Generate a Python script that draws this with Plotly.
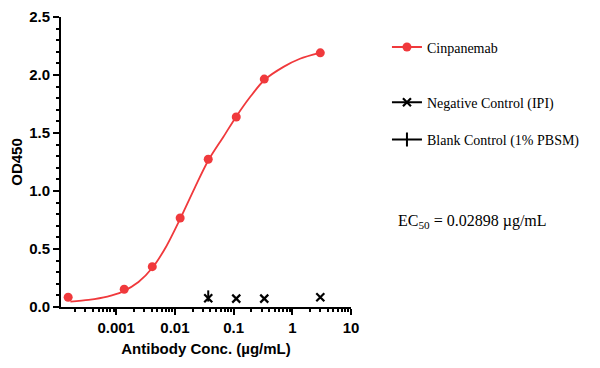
import plotly.graph_objects as go

# Data
conc = [0.000152, 0.00137, 0.00412, 0.0123, 0.037, 0.111, 0.333, 3.0]
od_cinpanemab = [0.084, 0.153, 0.348, 0.767, 1.274, 1.638, 1.965, 2.191]

# fitted curve
fit_conc = [0.000166, 0.000339, 0.000708, 0.00126, 0.0024, 0.00417, 0.00708, 0.0123,
            0.0219, 0.0372, 0.0676, 0.112, 0.191, 0.331, 0.708, 1.35, 2.95]
fit_od = [0.047, 0.062, 0.090, 0.130, 0.215, 0.340, 0.520, 0.760,
          1.030, 1.265, 1.470, 1.645, 1.810, 1.955, 2.070, 2.140, 2.190]

neg_conc = [0.037, 0.111, 0.333, 3.0]
od_negative = [0.076, 0.072, 0.072, 0.084]

blank_conc = [0.037]
od_blank = [0.095]

x_ticks = [0.001, 0.01, 0.1, 1, 10]
x_tick_labels = ["0.001", "0.01", "0.1", "1", "10"]

RED = "#F0393C"
serif = "Liberation Serif, Times New Roman, serif"
sans = "Liberation Sans, Arial, sans-serif"

fig = go.Figure()

fig.add_trace(go.Scatter(x=fit_conc, y=fit_od, mode="lines",
                         line=dict(color=RED, width=1.8, shape="spline", smoothing=0.8),
                         showlegend=False, hoverinfo="skip"))
fig.add_trace(go.Scatter(x=conc, y=od_cinpanemab, mode="markers", marker=dict(color=RED, size=9),
                         showlegend=False))
fig.add_trace(go.Scatter(x=neg_conc, y=od_negative, mode="markers",
                         marker=dict(symbol="x-thin-open", size=8, color="black",
                                     line=dict(color="black", width=2.2)),
                         showlegend=False))
fig.add_trace(go.Scatter(x=blank_conc, y=od_blank, mode="markers",
                         marker=dict(symbol="line-ns-open", size=8, color="black",
                                     line=dict(color="black", width=2)),
                         showlegend=False))

# legend entries
fig.add_trace(go.Scatter(x=[None], y=[None], mode="lines+markers", name="Cinpanemab",
                         line=dict(color=RED, width=2), marker=dict(color=RED, size=9), legend="legend"))
fig.add_trace(go.Scatter(x=[None], y=[None], mode="lines+markers", name="Negative Control (IPI)",
                         line=dict(color="black", width=2),
                         marker=dict(symbol="x-thin-open", size=8, color="black",
                                     line=dict(color="black", width=2.2)),
                         legend="legend2", legendgroup="a"))
fig.add_trace(go.Scatter(x=[None], y=[None], mode="lines+markers", name="Blank Control (1% PBSM)",
                         line=dict(color="black", width=2),
                         marker=dict(symbol="line-ns-open", size=10, color="black",
                                     line=dict(color="black", width=2)),
                         legend="legend2", legendgroup="b"))

axis_font = dict(family=sans, size=15, color="black")

fig.update_layout(
    width=600, height=368,
    margin=dict(l=53, r=257, t=9, b=69, autoexpand=False),
    plot_bgcolor="white", paper_bgcolor="white",
    xaxis=dict(
        type="log", range=[-3.94, 1.0], automargin=False,
        tickvals=x_ticks, ticktext=x_tick_labels,
        ticks="outside", ticklen=6, tickwidth=1.5, tickcolor="black",
        showline=True, linecolor="black", linewidth=2,
        showgrid=False, zeroline=False, ticklabeloverflow="allow",
        tickfont=dict(family=sans, size=15, color="black", weight="bold"),
        title=dict(text="<b>Antibody Conc. (µg/mL)</b>", font=axis_font, standoff=8),
        minor=dict(ticks="outside", ticklen=3, tickwidth=1.5, tickcolor="black", dtick="D1", showgrid=False),
    ),
    yaxis=dict(
        range=[0, 2.5], dtick=0.5, tickformat=".1f", automargin=False,
        ticks="outside", ticklen=6, tickwidth=1.5, tickcolor="black",
        showline=True, linecolor="black", linewidth=2,
        showgrid=False, zeroline=False, ticklabeloverflow="allow",
        tickfont=dict(family=sans, size=15, color="black", weight="bold"),
        title=dict(text="<b>OD450</b>", font=axis_font, standoff=7),
        minor=dict(ticks="outside", ticklen=3, tickwidth=1.5, tickcolor="black", dtick=0.1, showgrid=False),
    ),
    legend=dict(x=1.124, y=0.895, xanchor="left", yanchor="middle", xref="paper", yref="paper",
                font=dict(family=serif, size=14, color="black"), bgcolor="rgba(0,0,0,0)"),
    legend2=dict(x=1.124, y=0.76, xanchor="left", yanchor="top", xref="paper", yref="paper",
                 font=dict(family=serif, size=14, color="black"), tracegroupgap=16,
                 bgcolor="rgba(0,0,0,0)"),
    annotations=[dict(x=1.155, y=0.294, xref="paper", yref="paper", xanchor="left", yanchor="middle",
                      text="EC<sub>50</sub> = 0.02898 µg/mL", showarrow=False,
                      font=dict(family=serif, size=16, color="black"))],
)

fig.write_html("out.html")
